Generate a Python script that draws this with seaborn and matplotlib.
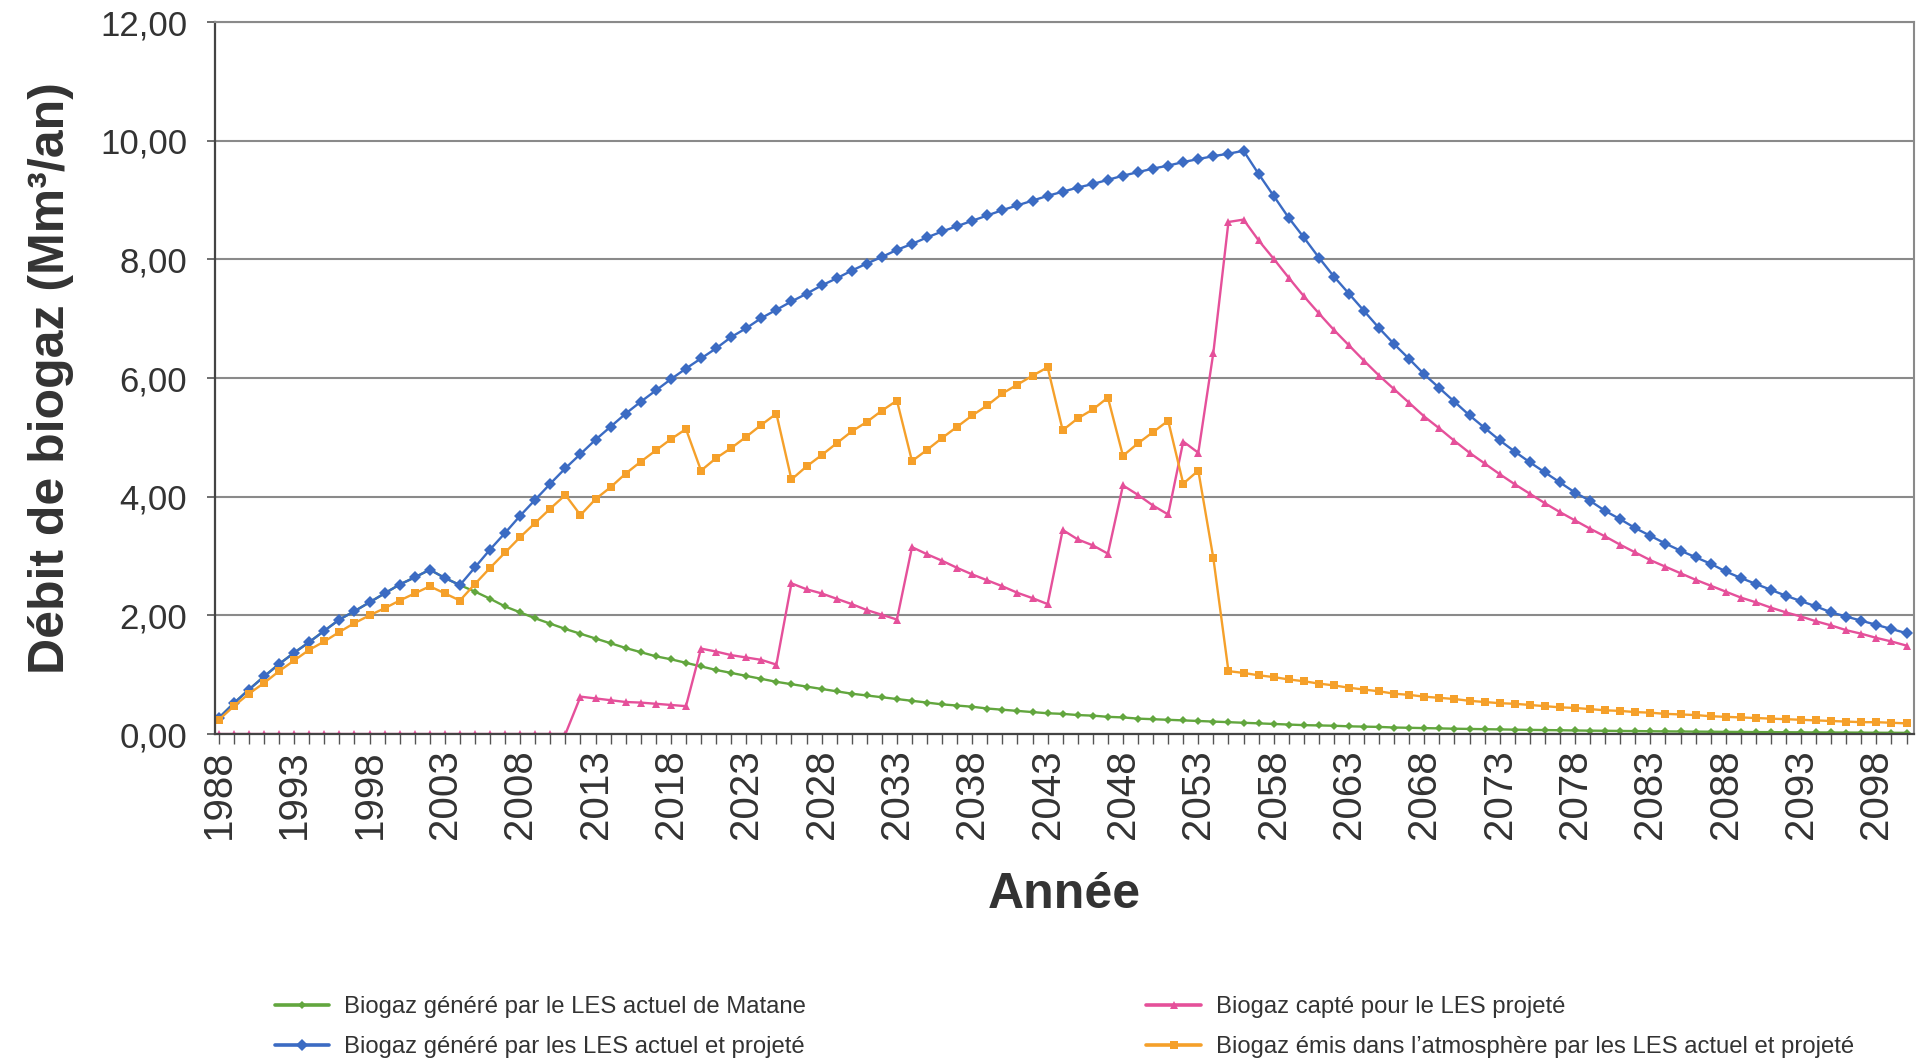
import matplotlib
matplotlib.use("Agg")
import matplotlib.pyplot as plt
from matplotlib.ticker import MultipleLocator, FixedLocator, FuncFormatter
import numpy as np
import pandas as pd
import seaborn as sns

# Années de la projection
annees = list(range(1988, 2101))

# Biogaz généré par le LES actuel de Matane (Mm³/an)
genere_actuel = [
    0.27, 0.52, 0.75, 0.97, 1.18, 1.37, 1.55, 1.74, 1.93, 2.07,
    2.22, 2.37, 2.52, 2.64, 2.77, 2.63, 2.51, 2.40, 2.28, 2.15,
    2.05, 1.95, 1.86, 1.77, 1.69, 1.61, 1.53, 1.45, 1.38, 1.31,
    1.26, 1.20, 1.14, 1.08, 1.03, 0.98, 0.93, 0.88, 0.84, 0.80,
    0.76, 0.72, 0.68, 0.65, 0.62, 0.59, 0.56, 0.53, 0.50, 0.48,
    0.46, 0.43, 0.41, 0.39, 0.37, 0.35, 0.34, 0.32, 0.31, 0.29,
    0.28, 0.26, 0.25, 0.24, 0.23, 0.22, 0.21, 0.20, 0.19, 0.18,
    0.17, 0.16, 0.15, 0.145, 0.14, 0.13, 0.125, 0.12, 0.11, 0.105,
    0.10, 0.095, 0.09, 0.086, 0.082, 0.078, 0.074, 0.070, 0.067, 0.064,
    0.060, 0.057, 0.055, 0.052, 0.050, 0.047, 0.045, 0.043, 0.041, 0.039,
    0.037, 0.035, 0.033, 0.032, 0.030, 0.029, 0.027, 0.026, 0.025, 0.024,
    0.022, 0.021, 0.020,
]

# Biogaz généré par les LES actuel et projeté
genere_total = [
    0.27, 0.52, 0.75, 0.97, 1.18, 1.37, 1.55, 1.74, 1.93, 2.07,
    2.22, 2.37, 2.52, 2.64, 2.77, 2.63, 2.51, 2.81, 3.11, 3.39,
    3.68, 3.95, 4.22, 4.48, 4.72, 4.96, 5.18, 5.40, 5.60, 5.79,
    5.98, 6.16, 6.33, 6.50, 6.69, 6.84, 7.01, 7.15, 7.29, 7.42,
    7.56, 7.68, 7.81, 7.93, 8.04, 8.16, 8.26, 8.37, 8.47, 8.56,
    8.65, 8.74, 8.83, 8.91, 8.99, 9.07, 9.14, 9.21, 9.27, 9.34,
    9.41, 9.47, 9.53, 9.58, 9.64, 9.69, 9.74, 9.78, 9.83, 9.44,
    9.07, 8.70, 8.37, 8.03, 7.71, 7.42, 7.13, 6.84, 6.57, 6.32,
    6.06, 5.83, 5.60, 5.37, 5.16, 4.95, 4.76, 4.58, 4.41, 4.24,
    4.07, 3.93, 3.76, 3.62, 3.47, 3.34, 3.21, 3.09, 2.98, 2.87,
    2.74, 2.63, 2.53, 2.43, 2.33, 2.24, 2.15, 2.05, 1.98, 1.91,
    1.84, 1.77, 1.70,
]

# Biogaz capté pour le LES projeté
capte_projete = [
    0, 0, 0, 0, 0, 0, 0, 0, 0, 0,
    0, 0, 0, 0, 0, 0, 0, 0, 0, 0,
    0, 0, 0, 0, 0.63, 0.60, 0.57, 0.54, 0.53, 0.51,
    0.49, 0.47, 1.44, 1.39, 1.33, 1.29, 1.25, 1.17, 2.54, 2.44,
    2.37, 2.28, 2.19, 2.09, 2.01, 1.93, 3.15, 3.03, 2.92, 2.80,
    2.69, 2.59, 2.49, 2.38, 2.29, 2.19, 3.44, 3.28, 3.18, 3.04,
    4.19, 4.03, 3.85, 3.70, 4.93, 4.74, 6.43, 8.63, 8.67, 8.32,
    8.01, 7.69, 7.38, 7.09, 6.81, 6.55, 6.29, 6.04, 5.81, 5.58,
    5.35, 5.15, 4.94, 4.74, 4.56, 4.38, 4.21, 4.05, 3.89, 3.74,
    3.60, 3.46, 3.33, 3.19, 3.06, 2.93, 2.82, 2.71, 2.60, 2.50,
    2.40, 2.30, 2.22, 2.13, 2.05, 1.98, 1.90, 1.83, 1.75, 1.69,
    1.62, 1.56, 1.49,
]

# Biogaz émis dans l'atmosphère par les LES actuel et projeté
emis_atmosphere = [
    0.24, 0.47, 0.68, 0.86, 1.06, 1.24, 1.42, 1.56, 1.72, 1.87,
    2.00, 2.12, 2.25, 2.37, 2.49, 2.37, 2.25, 2.53, 2.80, 3.06,
    3.32, 3.56, 3.80, 4.03, 3.69, 3.96, 4.16, 4.39, 4.59, 4.78,
    4.97, 5.14, 4.44, 4.65, 4.82, 5.01, 5.21, 5.40, 4.29, 4.51,
    4.70, 4.90, 5.10, 5.26, 5.45, 5.62, 4.60, 4.79, 4.99, 5.18,
    5.37, 5.54, 5.74, 5.89, 6.04, 6.18, 5.12, 5.32, 5.47, 5.67,
    4.69, 4.90, 5.09, 5.28, 4.22, 4.44, 2.96, 1.06, 1.03, 0.99,
    0.96, 0.92, 0.89, 0.85, 0.82, 0.78, 0.75, 0.72, 0.68, 0.66,
    0.63, 0.61, 0.59, 0.56, 0.54, 0.52, 0.51, 0.49, 0.47, 0.45,
    0.44, 0.42, 0.40, 0.39, 0.37, 0.36, 0.34, 0.33, 0.32, 0.30,
    0.29, 0.28, 0.27, 0.26, 0.25, 0.24, 0.23, 0.22, 0.21, 0.20,
    0.20, 0.19, 0.18,
]

libelles = [
    "Biogaz généré par le LES actuel de Matane",
    "Biogaz généré par les LES actuel et projeté",
    "Biogaz capté pour le LES projeté",
    "Biogaz émis dans l’atmosphère par les LES actuel et projeté",
]

annees_etiquetees = list(range(1988, 2101, 5))
graduations_y = [0, 2, 4, 6, 8, 10, 12]

df = pd.DataFrame({
    "Année": annees,
    libelles[0]: genere_actuel,
    libelles[1]: genere_total,
    libelles[2]: capte_projete,
    libelles[3]: emis_atmosphere,
})

sns.set_theme(style="white")
plt.rcParams["font.family"] = ["Liberation Sans", "DejaVu Sans"]

texte = "#333333"
fig = plt.figure(figsize=(19.27, 10.58), dpi=100)
ax = fig.add_axes([0.1116, 0.3062, 0.8817, 0.6730])

styles = [
    (libelles[0], "#62a63e", "D", 4.5),
    (libelles[1], "#3b6bc3", "D", 6.5),
    (libelles[2], "#e5509a", "^", 6.0),
    (libelles[3], "#f5a02a", "s", 5.2),
]

poignees = []
for nom, couleur, marque, taille in styles:
    sns.lineplot(data=df, x="Année", y=nom, ax=ax, color=couleur,
                 marker=marque, markersize=taille, markeredgewidth=0,
                 linewidth=1.7, errorbar=None, legend=False)
    poignees.append(ax.lines[-1])

ax.set_xlim(1987.75, 2100.5)
ax.set_ylim(0, 12)

ax.xaxis.set_major_locator(FixedLocator(annees_etiquetees))
ax.xaxis.set_minor_locator(MultipleLocator(1))
ax.set_xticklabels([str(a) for a in annees_etiquetees], rotation=90,
                   fontsize=29, color=texte)
ax.set_yticks(graduations_y)
ax.yaxis.set_major_formatter(FuncFormatter(lambda v, p: f"{v:.2f}".replace(".", ",")))
ax.tick_params(axis="y", labelsize=25, labelcolor=texte, direction="out",
               length=6, width=1.2, color="#555555", pad=14, left=True)
ax.tick_params(axis="x", which="both", direction="out", length=7,
               width=1.0, color="#555555", bottom=True, pad=4)

ax.yaxis.grid(True, color="#8a8a8a", linewidth=1.5)
ax.xaxis.grid(False)
for cote in ["left", "bottom"]:
    ax.spines[cote].set_color("#444444")
    ax.spines[cote].set_linewidth(1.6)
for cote in ["top", "right"]:
    ax.spines[cote].set_color("#8a8a8a")
    ax.spines[cote].set_linewidth(1.5)

ax.set_ylabel("Débit de biogaz (Mm³/an)", fontsize=36, fontweight="bold",
              color=texte)
ax.yaxis.set_label_coords(-0.083, 0.5)
ax.set_xlabel("Année", fontsize=36, fontweight="bold", color=texte)
ax.xaxis.label.set_va("center")
ax.xaxis.set_label_coords(0.5, -0.226)

for debut, (i, j) in [(0.1313, (0, 1)), (0.5838, (2, 3))]:
    leg = fig.legend([poignees[i], poignees[j]], [libelles[i], libelles[j]],
                     loc="upper left", bbox_to_anchor=(debut, 0.0787),
                     frameon=False, fontsize=17.2, handlelength=2.3,
                     handletextpad=0.6, labelspacing=0.75, labelcolor=texte)
    for ligne in leg.get_lines():
        ligne.set_linewidth(2.6)

fig.savefig("out.png", dpi=100)
